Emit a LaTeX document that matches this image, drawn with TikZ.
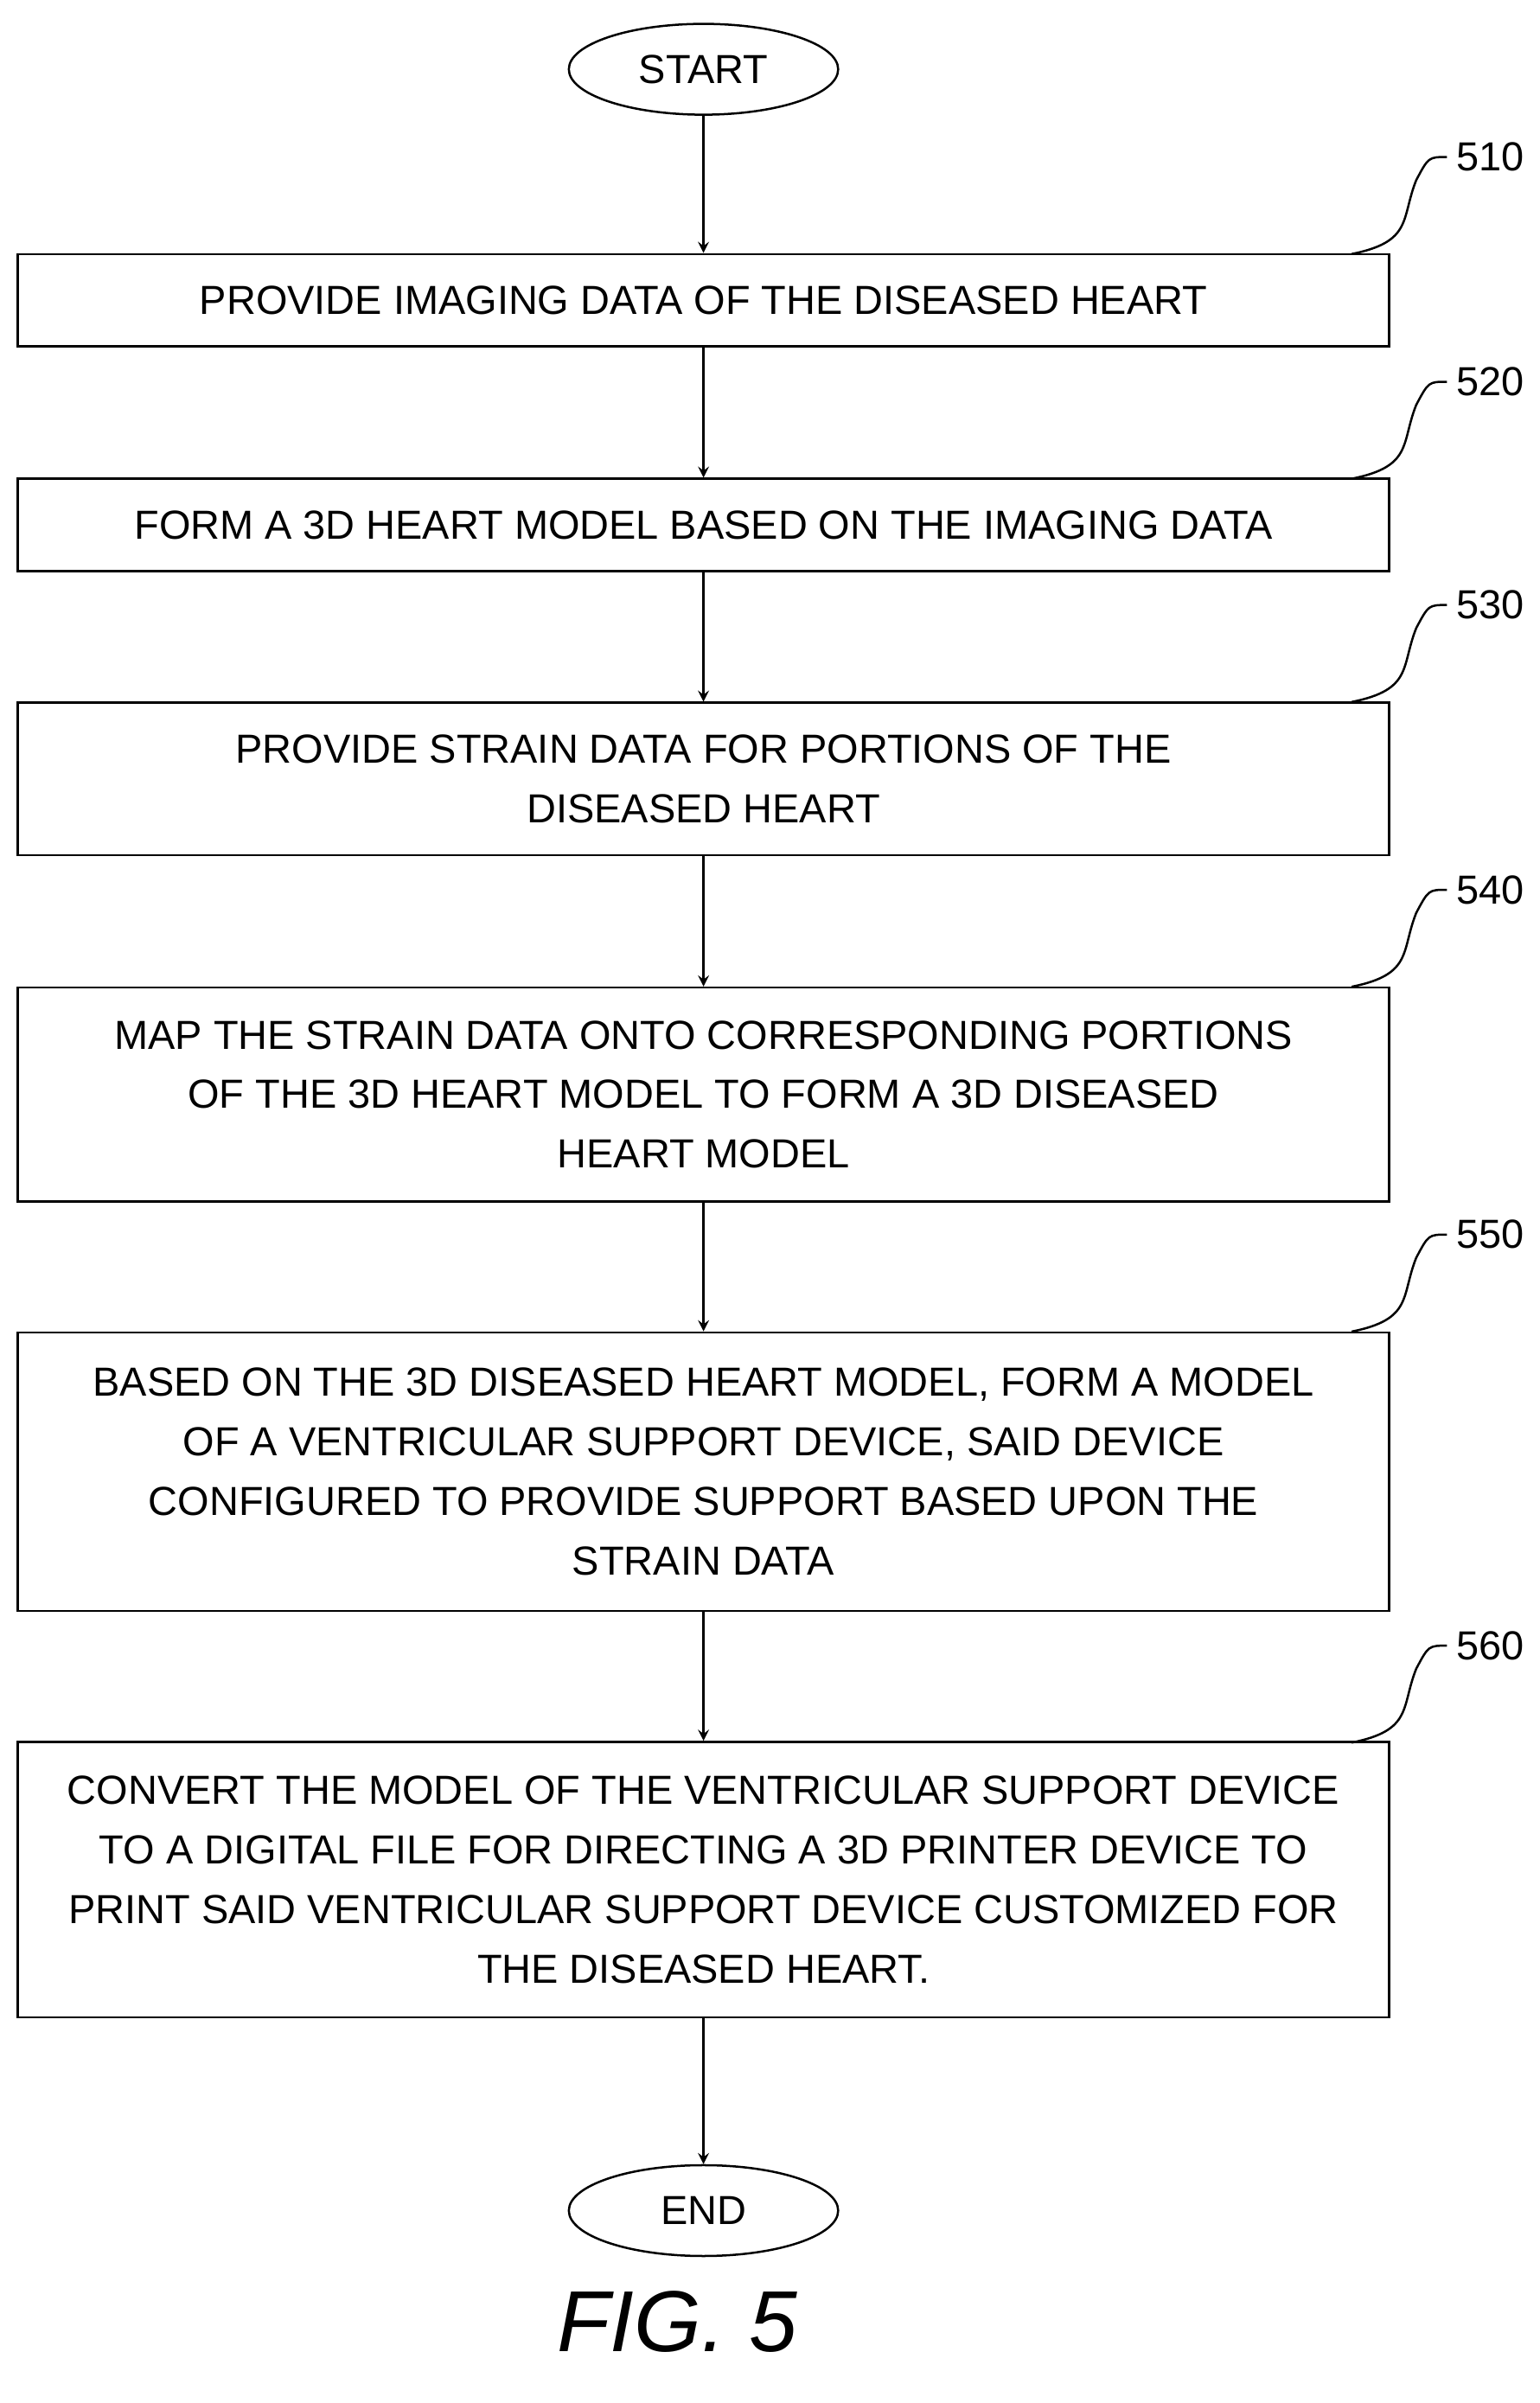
\documentclass[tikz,border=0pt]{standalone}
\usepackage{fontspec}
\setmainfont{Liberation Sans}
\usetikzlibrary{positioning,calc,shapes.geometric}
\tikzset{
  stepbox/.style={draw, line width=0.8pt, minimum width=17.82cm, align=center, inner sep=0pt,
    font=\fontsize{15}{22}\selectfont},
  term/.style={draw, ellipse, line width=0.8pt, minimum width=3.5cm, minimum height=1.18cm,
    font=\fontsize{15}{22}\selectfont},
  flow/.style={->, line width=0.8pt, >=stealth},
  tag/.style={font=\fontsize{15}{18}\selectfont, anchor=west}
}
\begin{document}
\begin{tikzpicture}[x=0.02cm,y=-0.02cm]
\useasboundingbox (0,0) rectangle (1000,1561);
\node[term] (start) at (457,45) {START};
\node[stepbox, minimum height=1.2cm] (s510) at (457,195) {PROVIDE IMAGING DATA OF THE DISEASED HEART};
\node[stepbox, minimum height=1.2cm] (s520) at (457,341) {FORM A 3D HEART MODEL BASED ON THE IMAGING DATA};
\node[stepbox, minimum height=1.98cm] (s530) at (457,506) {PROVIDE STRAIN DATA FOR PORTIONS OF THE\\DISEASED HEART};
\node[stepbox, minimum height=2.78cm] (s540) at (457,711) {MAP THE STRAIN DATA ONTO CORRESPONDING PORTIONS\\OF THE 3D HEART MODEL TO FORM A 3D DISEASED\\HEART MODEL};
\node[stepbox, minimum height=3.62cm] (s550) at (457,956) {BASED ON THE 3D DISEASED HEART MODEL, FORM A MODEL\\OF A VENTRICULAR SUPPORT DEVICE, SAID DEVICE\\CONFIGURED TO PROVIDE SUPPORT BASED UPON THE\\STRAIN DATA};
\node[stepbox, minimum height=3.58cm] (s560) at (457,1221) {CONVERT THE MODEL OF THE VENTRICULAR SUPPORT DEVICE\\TO A DIGITAL FILE FOR DIRECTING A 3D PRINTER DEVICE TO\\PRINT SAID VENTRICULAR SUPPORT DEVICE CUSTOMIZED FOR\\THE DISEASED HEART.};
\node[term] (end) at (457,1436) {END};
\node[font=\fontsize{32}{36}\selectfont\itshape] (fig) at (440,1508) {FIG. 5};
\draw[flow] (start) -- (s510);
\draw[flow] (s510) -- (s520);
\draw[flow] (s520) -- (s530);
\draw[flow] (s530) -- (s540);
\draw[flow] (s540) -- (s550);
\draw[flow] (s550) -- (s560);
\draw[flow] (s560) -- (end);
% reference numerals
\foreach \n/\y in {510/165,520/311,530/456,540/641,550/865,560/1132}{
  \coordinate (c\n) at (878,\y);
  \node[tag] (t\n) at (940,\y-63) {\n};
  \draw[line width=0.8pt] (c\n) .. controls ($(c\n)+(40,-8)$) and ($(t\n.west)+(-30,40)$) .. ($(t\n.west)+(-20,15)$)
     .. controls ($(t\n.west)+(-12,0)$) .. (t\n.west);
}
\end{tikzpicture}
\end{document}
